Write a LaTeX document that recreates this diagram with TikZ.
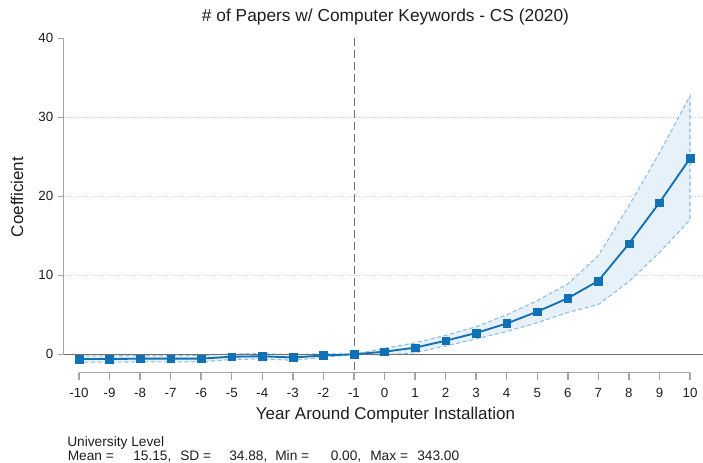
\documentclass[tikz,border=0pt]{standalone}
\usepackage{fontspec}
\setmainfont{Liberation Sans}
\definecolor{estblue}{RGB}{18,112,180}
\definecolor{bandfill}{RGB}{231,241,249}
\definecolor{bandline}{RGB}{140,190,225}
\definecolor{axisgray}{RGB}{165,165,165}
\definecolor{zerogray}{RGB}{112,112,112}
\definecolor{gridgray}{RGB}{200,200,200}
\definecolor{txt}{RGB}{30,30,30}
\tikzset{
  axisline/.style={draw=axisgray, line width=1.1pt},
  ticklab/.style={font=\fontsize{10}{12}\selectfont, text=txt, inner sep=0pt},
  notelab/.style={font=\fontsize{10.3}{12}\selectfont, text=txt, inner sep=0pt, anchor=base west},
  axtitle/.style={font=\fontsize{12.75}{15}\selectfont, text=txt, inner sep=0pt},
  gridln/.style={draw=gridgray, line width=0.8pt, dash pattern=on 0.8pt off 1.6pt},
  cil/.style={draw=bandline, line width=0.8pt, dash pattern=on 3pt off 2pt},
  estline/.style={draw=estblue, line width=1.4pt},
  mk/.style={rectangle, fill=estblue, draw=estblue, line width=0.3pt, minimum size=5.8pt, inner sep=0pt},
}
\begin{document}
\begin{tikzpicture}[x=0.75pt,y=-0.75pt]
\useasboundingbox (0,0) rectangle (703,462);
% title
\node[axtitle, anchor=base, font=\fontsize{13}{15}\selectfont] (title) at (385.5,21) {\# of Papers w/ Computer Keywords - CS (2020)};
% grid lines
\foreach \v in {10,20,30} {
  \draw[gridln] (65,{354.3-7.9*\v}) -- (703,{354.3-7.9*\v});
}
% data scope: band
\begin{scope}[shift={(384.5,354.3)}, x=22.9125pt, y=5.925pt]
  \fill[bandfill] (-10,-0.2) -- (-9,-0.2) -- (-8,-0.15) -- (-7,-0.15) -- (-6,-0.15) -- (-5,0.05) -- (-4,0.1) -- (-3,-0.05) -- (-2,0.1) -- (-1,0) -- (0,0.76) -- (1,1.45) -- (2,2.4) -- (3,3.5) -- (4,5.0) -- (5,6.8) -- (6,8.9) -- (7,12.5) -- (8,18.8) -- (9,25.5) -- (10,32.7)
    -- (10,17.0) -- (9,12.9) -- (8,9.2) -- (7,6.3) -- (6,5.3) -- (5,4.0) -- (4,2.9) -- (3,1.95) -- (2,1.05) -- (1,0.2) -- (0,-0.1) -- (-1,0) -- (-2,-0.4) -- (-3,-0.75) -- (-4,-0.6) -- (-5,-0.65) -- (-6,-0.95) -- (-7,-0.95) -- (-8,-0.95) -- (-9,-1.0) -- (-10,-1.0) -- cycle;
  \draw[cil] (-10,-0.2) -- (-9,-0.2) -- (-8,-0.15) -- (-7,-0.15) -- (-6,-0.15) -- (-5,0.05) -- (-4,0.1) -- (-3,-0.05) -- (-2,0.1) -- (-1,0) -- (0,0.76) -- (1,1.45) -- (2,2.4) -- (3,3.5) -- (4,5.0) -- (5,6.8) -- (6,8.9) -- (7,12.5) -- (8,18.8) -- (9,25.5) -- (10,32.7)
    -- (10,17.0) -- (9,12.9) -- (8,9.2) -- (7,6.3) -- (6,5.3) -- (5,4.0) -- (4,2.9) -- (3,1.95) -- (2,1.05) -- (1,0.2) -- (0,-0.1) -- (-1,0) -- (-2,-0.4) -- (-3,-0.75) -- (-4,-0.6) -- (-5,-0.65) -- (-6,-0.95) -- (-7,-0.95) -- (-8,-0.95) -- (-9,-1.0) -- (-10,-1.0);
\end{scope}
% zero line
\draw[draw=zerogray, line width=1.2pt] (63.5,354.3) -- (703,354.3);
% reference line at -1
\draw[draw=zerogray, line width=0.7pt, dash pattern=on 6pt off 3pt] (354,38.3) -- (354,372.7);
% estimates
\begin{scope}[shift={(384.5,354.3)}, x=22.9125pt, y=5.925pt]
  \draw[estline] (-10,-0.6) -- (-9,-0.6) -- (-8,-0.55) -- (-7,-0.55) -- (-6,-0.55) -- (-5,-0.3) -- (-4,-0.25) -- (-3,-0.4) -- (-2,-0.15) -- (-1,0) -- (0,0.33) -- (1,0.84) -- (2,1.72) -- (3,2.7) -- (4,3.9) -- (5,5.4) -- (6,7.1) -- (7,9.3) -- (8,14.0) -- (9,19.2) -- (10,24.8);
  \foreach \t/\v [count=\i] in {-10/-0.6,-9/-0.6,-8/-0.55,-7/-0.55,-6/-0.55,-5/-0.3,-4/-0.25,-3/-0.4,-2/-0.15,-1/0,0/0.33,1/0.84,2/1.72,3/2.7,4/3.9,5/5.4,6/7.1,7/9.3,8/14.0,9/19.2,10/24.8} {
    \node[mk] (m\i) at (\t,\v) {};
  }
\end{scope}
% y axis
\draw[axisline] (63.5,38.3) -- (63.5,354.3);
\foreach \v in {0,10,20,30,40} {
  \draw[axisline] (57.5,{354.3-7.9*\v}) -- (63.5,{354.3-7.9*\v});
  \node[ticklab, anchor=east] (yl\v) at (53.5,{354.3-7.9*\v}) {\v};
}
\node[axtitle, rotate=90] (ytitle) at (17,197) {Coefficient};
% x axis
\draw[axisline] (79,372.7) -- (690,372.7);
\foreach \t [count=\i from 0] in {-10,-9,-8,-7,-6,-5,-4,-3,-2,-1,0,1,2,3,4,5,6,7,8,9,10} {
  \draw[axisline] ({79+30.55*\i},372.7) -- ({79+30.55*\i},379.5);
  \node[ticklab, anchor=base] (xl\i) at ({79+30.55*\i},397.3) {\t};
}
\node[axtitle, anchor=base] (xtitle) at (385.5,419) {Year Around Computer Installation};
% notes
\node[notelab] (n1) at (67,446) {University Level};
\node[notelab] (n2) at (67.5,460) {Mean =};
\node[notelab] (n3) at (133,460) {15.15,};
\node[notelab] (n4) at (180,460) {SD =};
\node[notelab] (n5) at (229,460) {34.88,};
\node[notelab] (n6) at (275,460) {Min =};
\node[notelab] (n7) at (330.5,460) {0.00,};
\node[notelab] (n8) at (370,460) {Max =};
\node[notelab] (n9) at (417,460) {343.00};
\end{tikzpicture}
\end{document}
